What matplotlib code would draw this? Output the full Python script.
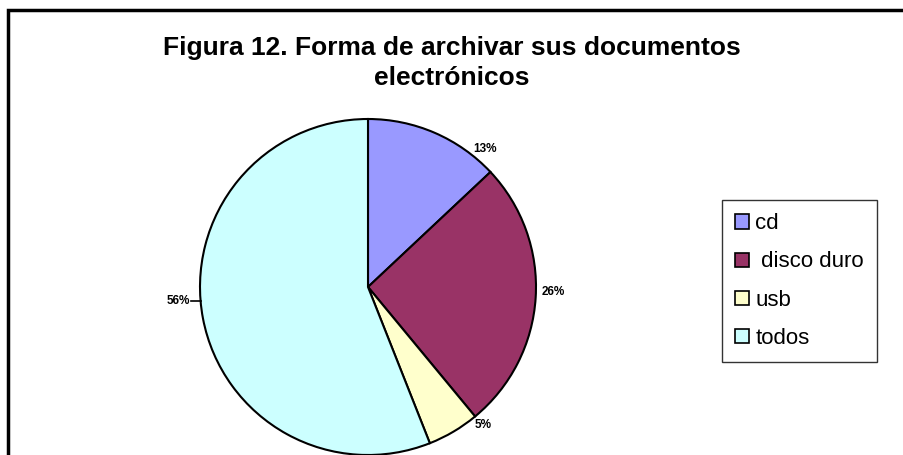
import numpy as np
import matplotlib.pyplot as plt
from matplotlib.patches import Rectangle

plt.rcParams['font.family'] = ['Liberation Sans', 'DejaVu Sans']

# Data
labels = ['cd', ' disco duro', 'usb', 'todos']
values = [13, 26, 5, 56]
colors = ['#9999FF', '#993366', '#FFFFCC', '#CCFFFF']
title = 'Figura 12. Forma de archivar sus documentos\nelectrónicos'

W, H = 904, 455
fig = plt.figure(figsize=(W / 100, H / 100), dpi=100)
ax = fig.add_axes([0, 0, 1, 1])

# pie in pixel coordinates (y measured upward)
cx, cy, r = 368, H - 287, 168
wedges, _ = ax.pie(values, colors=colors, startangle=90, counterclock=False,
                   center=(cx, cy), radius=r,
                   wedgeprops=dict(edgecolor='black', linewidth=1.5))
ax.set_xlim(0, W)
ax.set_ylim(0, H)
ax.set_aspect('equal')
ax.axis('off')

# percentage labels, nudged a little from the slice middle like the original
nudge = [-14, 2, 7, -6]
for w, v, d in zip(wedges, values, nudge):
    ang = np.deg2rad((w.theta1 + w.theta2) / 2 + d)
    ca, sa = np.cos(ang), np.sin(ang)
    ha = 'left' if ca > 0 else 'right'
    if v > 50:
        # leader line
        x0, y0 = cx + r * ca, cy + r * sa
        x1, y1 = cx + (r + 10) * ca, y0
        ax.plot([x0, x1], [y0, y1], color='black', lw=1.2)
        ax.text(x1 - 1, y1, f'{v}%', ha='right', va='center',
                fontsize=8.5, fontweight='bold')
    else:
        rr = r + 6
        ax.text(cx + rr * ca, cy + rr * sa, f'{v}%', ha=ha, va='center',
                fontsize=8.5, fontweight='bold')

fig.text(0.5, 1 - 63 / H, title, ha='center', va='center', fontsize=19,
         fontweight='bold', linespacing=1.35)

leg = fig.legend(wedges, labels, loc='upper left',
                 bbox_to_anchor=(722 / W, 1 - 200 / H), fontsize=16,
                 frameon=True, fancybox=False, handlelength=0.6,
                 handleheight=0.6, handletextpad=0.3, labelspacing=0.77,
                 borderpad=0.6, borderaxespad=0)
leg.get_frame().set_edgecolor('black')
leg.get_frame().set_linewidth(1.0)
for h in leg.legend_handles:
    h.set_linewidth(1.2)

# chart border (cropped on right and bottom)
fig.patches.append(Rectangle((8 / W, -0.1), 1.2, 1 - 10 / H + 0.1,
                             transform=fig.transFigure, fill=False,
                             edgecolor='black', linewidth=2.5))

fig.savefig('out.png', dpi=100)
